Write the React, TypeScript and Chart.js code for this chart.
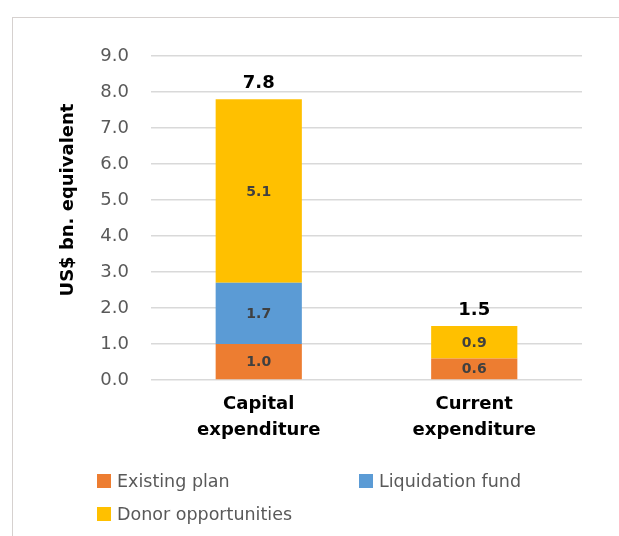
import React, { useEffect, useRef } from "react";
import { Chart, registerables } from "chart.js";

Chart.register(...registerables);

const categories: string[][] = [["Capital", "expenditure"], ["Current", "expenditure"]];
const seriesNames = ["Existing plan", "Liquidation fund", "Donor opportunities"];
const existingPlan: (number | null)[] = [1.0, 0.6];
const liquidationFund: (number | null)[] = [1.7, null];
const donorOpportunities: (number | null)[] = [5.1, 0.9];
const totals: number[] = [7.8, 1.5];
const colors = ["#ED7D31", "#5B9BD5", "#FFC000"];
const yTicks = [0, 1, 2, 3, 4, 5, 6, 7, 8, 9];
const yTitle = "US$ bn. equivalent";

const FONT = "'DejaVu Sans', sans-serif";

export default function App() {
  const ref = useRef<HTMLCanvasElement | null>(null);

  useEffect(() => {
    if (!ref.current) return;
    const labelPlugin = {
      id: "labels",
      afterDatasetsDraw(chart: any) {
        const ctx = chart.ctx;
        ctx.save();
        ctx.textAlign = "center";
        ctx.textBaseline = "middle";
        ctx.font = `bold 14px ${FONT}`;
        ctx.fillStyle = "#404040";
        chart.data.datasets.forEach((ds: any, di: number) => {
          const meta = chart.getDatasetMeta(di);
          meta.data.forEach((el: any, i: number) => {
            const v = ds.data[i];
            if (v == null) return;
            const cy = (el.y + el.base) / 2;
            ctx.fillText(v.toFixed(1), el.x, cy + 1);
          });
        });
        ctx.font = `bold 18px ${FONT}`;
        ctx.fillStyle = "#000000";
        ctx.textBaseline = "alphabetic";
        const yScale = chart.scales.y;
        const xScale = chart.scales.x;
        totals.forEach((t, i) => {
          const x = xScale.getPixelForValue(i);
          const y = yScale.getPixelForValue(t);
          ctx.fillText(t.toFixed(1), x, y - 11);
        });
        // y axis title
        ctx.translate(chart.chartArea.left - 83, (chart.chartArea.top + chart.chartArea.bottom) / 2 - 18);
        ctx.rotate(-Math.PI / 2);
        ctx.textBaseline = "middle";
        ctx.font = `bold 18px ${FONT}`;
        ctx.fillText(yTitle, 0, 0);
        ctx.restore();
      },
    };

    const chart = new Chart(ref.current, {
      type: "bar",
      data: {
        labels: categories as any,
        datasets: [
          { label: seriesNames[0], data: existingPlan, backgroundColor: colors[0] },
          { label: seriesNames[1], data: liquidationFund, backgroundColor: colors[1] },
          { label: seriesNames[2], data: donorOpportunities, backgroundColor: colors[2] },
        ],
      },
      options: {
        responsive: false,
        animation: false,
        devicePixelRatio: 1,
        layout: { padding: { left: 51, top: 56, right: 37, bottom: 86 } },
        datasets: { bar: { categoryPercentage: 0.4, barPercentage: 1 } } as any,
        plugins: { legend: { display: false }, tooltip: { enabled: false } },
        scales: {
          x: {
            stacked: true,
            grid: { display: false, drawTicks: false },
            border: { display: false },
            ticks: {
              color: "#000000",
              font: { family: FONT, size: 18, weight: "bold", lineHeight: 1.45 },
              padding: 11,
              maxRotation: 0,
            },
            afterFit: (s: any) => { s.height = 70; },
          },
          y: {
            stacked: true,
            min: 0,
            max: 9,
            afterBuildTicks: (s: any) => { s.ticks = yTicks.map((v) => ({ value: v })); },
            grid: { color: "#d9d9d9", lineWidth: 1.5, drawTicks: false },
            border: { display: false },
            ticks: {
              color: "#595959",
              font: { family: FONT, size: 18 },
              padding: 22,
              callback: (v: any) => Number(v).toFixed(1),
            },
            afterFit: (s: any) => { s.width = 100; },
          },
        },
      },
      plugins: [labelPlugin],
    });
    return () => chart.destroy();
  }, []);

  const legendItem = (i: number, left: number, top: number) => (
    <div
      key={i}
      style={{
        position: "absolute",
        left,
        top,
        height: 20,
        display: "flex",
        alignItems: "center",
        fontFamily: FONT,
        fontSize: 17.5,
        color: "#595959",
        whiteSpace: "nowrap",
      }}
    >
      <span style={{ display: "inline-block", width: 14, height: 14, background: colors[i], marginRight: 6 }} />
      <span>{seriesNames[i]}</span>
    </div>
  );

  return (
    <div style={{ position: "absolute", left: 0, top: 0, width: 619, height: 536, overflow: "hidden", background: "#fff" }}>
      <div
        style={{
          position: "absolute",
          left: 12,
          top: 17,
          width: 700,
          height: 600,
          border: "1px solid #d6d1cf",
          boxSizing: "border-box",
        }}
      />
      <canvas ref={ref} width={619} height={536} style={{ position: "absolute", left: 0, top: 0 }} />
      {legendItem(0, 97, 471)}
      {legendItem(1, 359, 471)}
      {legendItem(2, 97, 504)}
    </div>
  );
}
